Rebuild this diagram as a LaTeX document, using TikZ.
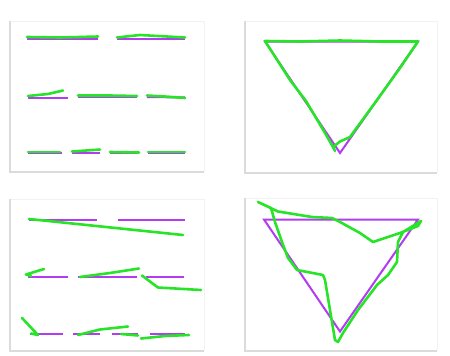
\documentclass[tikz,border=0pt]{standalone}
\begin{document}
\begin{tikzpicture}[x=1pt,y=-1pt,
  pu/.style={draw={rgb,255:red,178;green,60;blue,240},line width=2pt},
  gr/.style={draw={rgb,255:red,40;green,228;blue,40},line width=2.6pt,line join=round,line cap=round},
  frameL/.style={draw=black!14,line width=1.6pt},
  frameT/.style={draw=black!5,line width=1pt}]
\useasboundingbox (0,0) rectangle (450,356);
\fill[white] (0,0) rectangle (450,356);
% panel frames
\foreach \a/\b/\c/\d in {10/21/204/172, 245/21/437/173, 10/199/204/351, 245/198/437/351}{
  \draw[frameT] (\a,\b) -- (\c,\b) -- (\c,\d);
  \draw[frameL] (\a,\b) -- (\a,\d) -- (\c,\d);
}
% ---------- top-left ----------
\draw[pu] (27,38.5) -- (98,38.5);
\draw[pu] (117,38.5) -- (185,38.5);
\draw[pu] (28,97.5) -- (68,97.5);
\draw[pu] (78,97) -- (137,97);
\draw[pu] (147,97) -- (185,97.5);
\draw[pu] (28,153) -- (62,153);
\draw[pu] (72,153) -- (100,153);
\draw[pu] (110,153) -- (139,153);
\draw[pu] (148,153) -- (185,153);
\draw[gr] (27,37) -- (60,37.5) -- (98,36.5);
\draw[gr] (117,37.5) -- (140,35) -- (185,37.5);
\draw[gr] (28,96) -- (48,94) -- (63,90.5);
\draw[gr] (78,95.5) -- (110,95.5) -- (137,96);
\draw[gr] (147,95.5) -- (165,96.5) -- (185,98);
\draw[gr] (28,152) -- (60,152);
\draw[gr] (72,151.5) -- (100,149.5);
\draw[gr] (110,152) -- (139,152.5);
\draw[gr] (148,152) -- (185,152);
% ---------- top-right ----------
\draw[pu] (265,41.5) -- (418,41.5) -- (340,153) -- cycle;
\draw[gr] (265,41) -- (300,41.5) -- (340,40.5) -- (380,41.5) -- (418,41.5)
  -- (400,68) -- (377,100) -- (350,137) -- (340,141.5) -- (333,147) -- (335,151);
\draw[gr] (265,41) -- (290,80) -- (306,101) -- (325,133) -- (333,147);
% ---------- bottom-left ----------
\draw[pu] (29,219.5) -- (97,219.5);
\draw[pu] (118,219.5) -- (185,219.5);
\draw[pu] (28,277) -- (68,277);
\draw[pu] (78,277) -- (137,277);
\draw[pu] (146,277) -- (184,277);
\draw[pu] (30,333.5) -- (63,333.5);
\draw[pu] (73,333.5) -- (100,333.5);
\draw[pu] (112,333.5) -- (138,333.5);
\draw[pu] (150,333.5) -- (185,333.5);
\draw[gr] (29,219) -- (183,235);
\draw[gr] (44,269) -- (26,274.5) -- (31,276);
\draw[gr] (80,277) -- (110,273) -- (139,268.5);
\draw[gr] (142,275.5) -- (158,287.5) -- (201,290);
\draw[gr] (22,318) -- (38,335) -- (31,333.5);
\draw[gr] (78,335) -- (100,329.5) -- (128,326.5);
\draw[gr] (121,334) -- (138,335.5);
\draw[gr] (141,338.5) -- (165,336) -- (189,335);
% ---------- bottom-right ----------
\draw[pu] (264,219.5) -- (418,219.5) -- (340,331.5) -- cycle;
\draw[gr] (258,202) -- (271,208) -- (275,222) -- (282,242) -- (288,258)
  -- (297,270) -- (323,275) -- (325,280) -- (330,310) -- (335,340)
  -- (338,342) -- (343,333) -- (358,310) -- (377,285) -- (388,275)
  -- (397,262) -- (398,242) -- (403,232) -- (421,221) -- (418,226)
  -- (400,233) -- (373,242) -- (360,233) -- (340,222) -- (332,218)
  -- (312,217) -- (278,211.5) -- cycle;
\end{tikzpicture}
\end{document}
